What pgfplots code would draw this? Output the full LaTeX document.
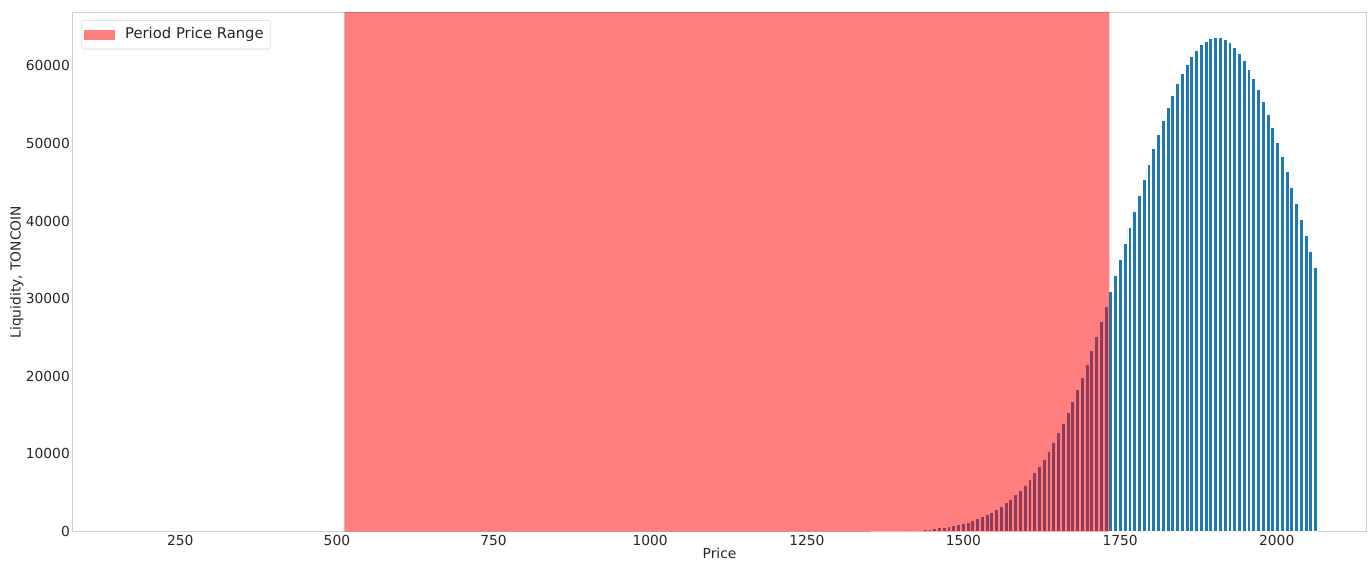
\documentclass[border=0pt]{standalone}
\usepackage{fontspec}
\setmainfont{DejaVu Sans}
\usepackage{pgfplots}
\pgfplotsset{compat=1.18}

\definecolor{mplblue}{HTML}{1F77B4}
\definecolor{spinegray}{HTML}{D0D0D0}
\definecolor{txt}{HTML}{262626}

\begin{document}
\begin{tikzpicture}
    \begin{axis}[
            name=ax,
            scale only axis,
            width=646.5pt,
            height=259.4pt,
            xmin=78.8, xmax=2142.5,
            ymin=0, ymax=66820,
            xtick={250,500,750,1000,1250,1500,1750,2000},
            ytick={0,10000,20000,30000,40000,50000,60000},
            scaled ticks=false,
            /pgf/number format/.cd, 1000 sep={}, assume math mode=true,
            /pgfplots/.cd,
            major tick length=0pt,
            axis line style={spinegray, line width=0.5pt},
            tick label style={font=\fontsize{6.9}{8}\selectfont, text=txt},
            xticklabel style={inner sep=0pt, yshift=-1.7pt},
            yticklabel style={inner sep=0pt, xshift=-1.4pt},
            xlabel={Price},
            ylabel={Liquidity, TONCOIN},
            label style={font=\fontsize{6.9}{8}\selectfont, text=txt, inner sep=0pt},
            xlabel style={at={(axis description cs:0.5,-0.031)}, anchor=north},
            ylabel style={at={(axis description cs:-0.0379,0.5)}, anchor=south},
            legend style={
                    at={(axis description cs:0.006,0.986)},
                    anchor=north west,
                    draw=black!12,
                    rounded corners=1.5pt,
                    inner xsep=1.5pt, inner ysep=1.6pt,
                    font=\fontsize{7.4}{8.5}\selectfont,
                    text=txt,
                    cells={anchor=west},
                },
            legend image code/.code={
                    \fill[#1, sharp corners] (1pt,-2.6pt) rectangle (16.3pt,2.6pt);
                    \path (19.5pt,0pt);
                },
        ]

        % liquidity per price bucket
        \addplot[ybar, bar width=6.2, fill=mplblue, draw=white, line width=0.4pt, forget plot]
        coordinates {
                (1355.2, 5) (1362.8, 10) (1370.4, 15) (1378.0, 20) (1385.6, 30)
                (1393.2, 40) (1400.8, 60) (1408.4, 80) (1416.0, 110) (1423.6, 150)
                (1431.2, 190) (1438.8, 250) (1446.4, 310) (1454.0, 390) (1461.6, 480)
                (1469.2, 570) (1476.8, 640) (1484.4, 770) (1492.0, 900) (1499.6, 1030)
                (1507.2, 1210) (1514.8, 1420) (1522.4, 1670) (1530.0, 1930) (1537.6, 2190)
                (1545.2, 2500) (1552.8, 2830) (1560.4, 3270) (1568.0, 3700) (1575.6, 4210)
                (1583.2, 4730) (1590.8, 5330) (1598.4, 6010) (1606.0, 6750) (1613.6, 7600)
                (1621.2, 8460) (1628.8, 9360) (1636.4, 10390) (1644.0, 11550) (1651.6, 12750)
                (1659.2, 14000) (1666.8, 15370) (1674.4, 16790) (1682.0, 18330) (1689.6, 19920)
                (1697.2, 21590) (1704.8, 23360) (1712.4, 25160) (1720.0, 27040) (1727.6, 28970)
                (1735.2, 30950) (1742.8, 32960) (1750.4, 35070) (1758.0, 37080) (1765.6, 39190)
                (1773.2, 41290) (1780.8, 43350) (1788.4, 45320) (1796.0, 47340) (1803.6, 49310)
                (1811.2, 51170) (1818.8, 52970) (1826.4, 54640) (1834.0, 56190) (1841.6, 57680)
                (1849.2, 59020) (1856.8, 60180) (1864.4, 61160) (1872.0, 62020) (1879.6, 62700)
                (1887.2, 63180) (1894.8, 63530) (1902.4, 63690) (1910.0, 63650) (1917.6, 63400)
                (1925.2, 62960) (1932.8, 62370) (1940.4, 61590) (1948.0, 60640) (1955.6, 59530)
                (1963.2, 58320) (1970.8, 56910) (1978.4, 55410) (1986.0, 53740) (1993.6, 52020)
                (2001.2, 50170) (2008.8, 48330) (2016.4, 46350) (2024.0, 44340) (2031.6, 42320)
                (2039.2, 40220) (2046.8, 38160) (2054.4, 36100) (2062.0, 33990)
            };

        % period price range, drawn over the bars
        \addplot[fill=red, fill opacity=0.5, draw=none] coordinates {
                (512, 0) (512, 70000) (1733, 70000) (1733, 0)
            } \closedcycle;
        \addlegendentry{Period Price Range}
    \end{axis}
    \pgfresetboundingbox
    \path[use as bounding box] ([xshift=-36.5pt,yshift=-15.65pt]ax.south west)
        rectangle ([xshift=1pt,yshift=6.4pt]ax.north east);
\end{tikzpicture}
\end{document}
